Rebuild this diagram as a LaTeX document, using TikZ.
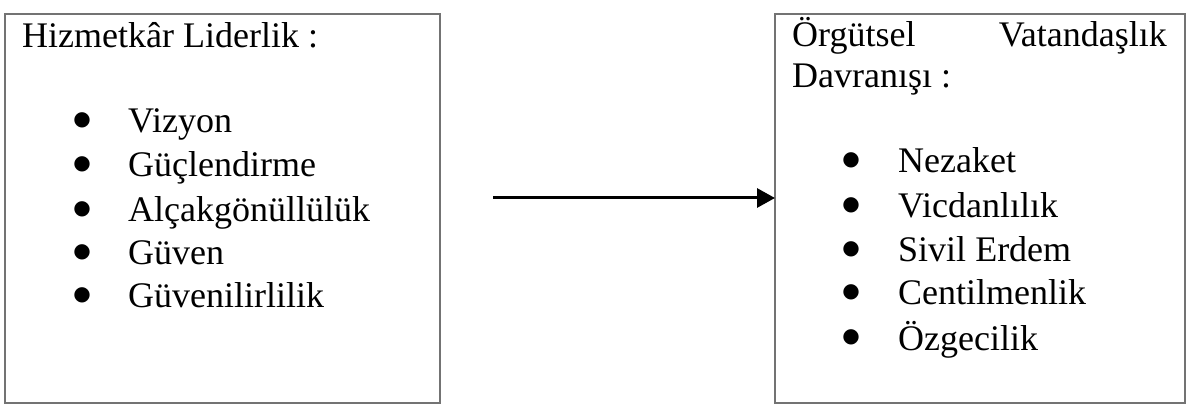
\documentclass[tikz,border=0pt]{standalone}
\usepackage{fontspec}
\setmainfont{Liberation Serif}
\newfontfamily\symfont{DejaVu Sans}
\usetikzlibrary{arrows.meta}
\begin{document}
\begin{tikzpicture}[x=1pt,y=-1pt,
  box/.style={draw=black!55, line width=1.5pt, inner sep=0pt, outer sep=0pt},
  txt/.style={anchor=base west, inner sep=0pt, font=\fontsize{36}{42}\selectfont},
  txtr/.style={anchor=base east, inner sep=0pt, font=\fontsize{36}{42}\selectfont},
  bul/.style={anchor=center, inner sep=0pt, yshift=12.5pt, font=\symfont\fontsize{20}{22}\selectfont},
  conn/.style={line width=3pt, -{Triangle[length=18pt,width=19pt]}}]
\useasboundingbox (0,0) rectangle (1198,411);
% boxes
\node[box, minimum width=435pt, minimum height=389pt] (left) at (222.5,208.5) {};
\node[box, minimum width=410pt, minimum height=389pt] (right) at (980,208.5) {};
% left box texts
\node[txt] (lt) at (22,48) {Hizmetkâr Liderlik :};
\node[bul] (lb1) at (82,133) {●};
\node[txt] (l1) at (128,133) {Vizyon};
\node[bul] (lb2) at (82,177) {●};
\node[txt] (l2) at (128,177) {Güçlendirme};
\node[bul] (lb3) at (82,222) {●};
\node[txt] (l3) at (128,222) {Alçakgönüllülük};
\node[bul] (lb4) at (82,265) {●};
\node[txt] (l4) at (128,265) {Güven};
\node[bul] (lb5) at (82,308) {●};
\node[txt] (l5) at (128,308) {Güvenilirlilik};
% right box texts
\node[txt] (rt1) at (792,47) {Örgütsel};
\node[txtr] (rt2) at (1167,47) {Vatandaşlık};
\node[txt] (rt3) at (792,88) {Davranışı :};
\node[bul] (rb1) at (851,173) {●};
\node[txt] (r1) at (898,173) {Nezaket};
\node[bul] (rb2) at (851,218) {●};
\node[txt] (r2) at (898,218) {Vicdanlılık};
\node[bul] (rb3) at (851,262) {●};
\node[txt] (r3) at (898,262) {Sivil Erdem};
\node[bul] (rb4) at (851,305) {●};
\node[txt] (r4) at (898,305) {Centilmenlik};
\node[bul] (rb5) at (851,350) {●};
\node[txt] (r5) at (898,350) {Özgecilik};
% arrow
\coordinate (astart) at (493,198);
\draw[conn] (astart) -- (astart -| right.west);
\end{tikzpicture}
\end{document}
